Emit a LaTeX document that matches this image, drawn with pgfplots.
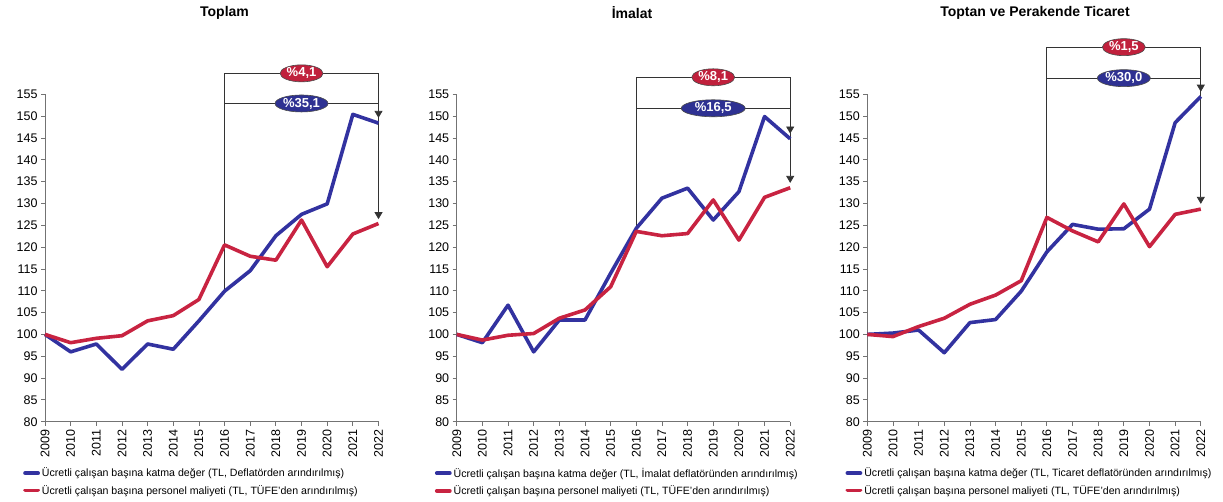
\documentclass[border=0pt]{standalone}
\usepackage{fontspec}
\setmainfont{Liberation Sans}
\usepackage{pgfplots}
\usepackage{pgfplotstable}
\pgfplotsset{compat=1.18}
\usetikzlibrary{arrows.meta,shapes.geometric}

\definecolor{lblue}{RGB}{50,50,160}
\definecolor{lred}{RGB}{200,35,65}
\definecolor{eblue}{RGB}{46,49,146}
\definecolor{ered}{RGB}{192,32,60}

\pgfplotstableread{
year blue red
2009 100.0 100.0
2010 96.0 98.1
2011 97.8 99.1
2012 92.0 99.7
2013 97.8 103.1
2014 96.6 104.3
2015 103.1 108.0
2016 109.9 120.5
2017 114.6 117.9
2018 122.6 117.0
2019 127.5 126.2
2020 129.9 115.5
2021 150.4 123.0
2022 148.4 125.4
}\toplam

\pgfplotstableread{
year blue red
2009 100.0 100.0
2010 98.1 98.7
2011 106.7 99.8
2012 96.0 100.2
2013 103.3 103.7
2014 103.3 105.6
2015 114.0 110.9
2016 124.3 123.6
2017 131.2 122.6
2018 133.5 123.1
2019 126.2 130.8
2020 132.7 121.6
2021 149.9 131.4
2022 144.8 133.6
}\imalat

\pgfplotstableread{
year blue red
2009 100.0 100.0
2010 100.3 99.5
2011 101.0 101.8
2012 95.8 103.7
2013 102.7 106.9
2014 103.4 109.0
2015 109.9 112.3
2016 118.9 126.8
2017 125.2 123.7
2018 124.1 121.2
2019 124.2 129.9
2020 128.7 120.1
2021 148.5 127.5
2022 154.5 128.7
}\ticaret

\pgfplotsset{
 panel/.style={
  scale only axis, width=333.5pt, height=327.4pt,
  xmin=2009, xmax=2022, ymin=80, ymax=155,
  xtick={2009,2010,...,2022}, ytick={80,85,...,155},
  axis lines*=left,
  axis line style={black!55, line width=0.8pt},
  tick style={black!55, line width=0.8pt},
  major tick length=4pt,
  tick align=outside,
  /pgf/number format/1000 sep={},
  /pgf/number format/assume math mode=true,
  x tick label style={rotate=90, anchor=east},
  tick label style={font=\fontsize{12.5}{12.5}\selectfont},
  clip=false,
  legend style={draw=none, fill=none, font=\fontsize{10.6}{12.5}\selectfont,
    at={(axis description cs:0,0)}, anchor=north west, xshift=-25pt, yshift=-42pt,
    row sep=3pt, cells={anchor=west}},
  legend image code/.code={\draw[line width=3.8pt, line cap=round] (0pt,0pt) -- (13pt,0pt);},
 },
 blueline/.style={color=lblue, line width=3.6pt, no markers, line join=round},
 redline/.style={color=lred, line width=3.6pt, no markers, line join=round},
}
\tikzset{
 bracket/.style={black!80, line width=0.8pt},
 tip/.style={-{Triangle[length=7pt,width=8pt]}},
 lab/.style={ellipse, draw=black!70, line width=0.6pt, text=white,
   font=\bfseries\fontsize{13}{13}\selectfont, minimum height=17pt, inner sep=0pt},
}

\begin{document}
\begin{tikzpicture}
\useasboundingbox (0,0) rectangle (1223pt,501pt);

\node[font=\bfseries\fontsize{14}{14}\selectfont] at (224.5pt,488.5pt) {Toplam};
\node[font=\bfseries\fontsize{14}{14}\selectfont] at (632pt,488.5pt) {İmalat};
\node[font=\bfseries\fontsize{14}{14}\selectfont] at (1035pt,488.5pt) {Toptan ve Perakende Ticaret};

% Panel 1
\begin{axis}[panel, at={(45pt,79.3pt)}, anchor=south west]
\draw[bracket] (axis cs:2016,109.9) -- (axis cs:2016,159.8) -- (axis cs:2022,159.8);
\draw[bracket,tip] (axis cs:2022,159.8) -- (axis cs:2022,126.4);
\draw[bracket] (axis cs:2016,152.9) -- (axis cs:2022,152.9);
\draw[bracket,tip] (axis cs:2022,152.9) -- (axis cs:2022,149.6);
\addplot[blueline] table[x=year,y=blue] {\toplam};
\addlegendentry{Ücretli çalışan başına katma değer (TL, Deflatörden arındırılmış)}
\addplot[redline] table[x=year,y=red] {\toplam};
\addlegendentry{Ücretli çalışan başına personel maliyeti (TL, TÜFE'den arındırılmış)}
\node[lab, fill=ered, minimum width=43pt] at (axis cs:2019,159.8) {\%4,1};
\node[lab, fill=eblue, minimum width=53pt] at (axis cs:2019,152.9) {\%35,1};
\end{axis}

% Panel 2
\begin{axis}[panel, at={(456.7pt,79.3pt)}, anchor=south west]
\draw[bracket] (axis cs:2016,124.3) -- (axis cs:2016,158.9) -- (axis cs:2022,158.9);
\draw[bracket,tip] (axis cs:2022,158.9) -- (axis cs:2022,134.7);
\draw[bracket] (axis cs:2016,151.8) -- (axis cs:2022,151.8);
\draw[bracket,tip] (axis cs:2022,151.8) -- (axis cs:2022,146.0);
\addplot[blueline] table[x=year,y=blue] {\imalat};
\addlegendentry{Ücretli çalışan başına katma değer (TL, İmalat deflatöründen arındırılmış)}
\addplot[redline] table[x=year,y=red] {\imalat};
\addlegendentry{Ücretli çalışan başına personel maliyeti (TL, TÜFE'den arındırılmış)}
\node[lab, fill=ered, minimum width=43pt] at (axis cs:2019,158.9) {\%8,1};
\node[lab, fill=eblue, minimum width=64pt] at (axis cs:2019,151.8) {\%16,5};
\end{axis}

% Panel 3
\begin{axis}[panel, at={(867.3pt,79.3pt)}, anchor=south west]
\draw[bracket] (axis cs:2016,118.9) -- (axis cs:2016,165.8) -- (axis cs:2022,165.8);
\draw[bracket,tip] (axis cs:2022,165.8) -- (axis cs:2022,129.9);
\draw[bracket] (axis cs:2016,158.7) -- (axis cs:2022,158.7);
\draw[bracket,tip] (axis cs:2022,158.7) -- (axis cs:2022,155.6);
\addplot[blueline] table[x=year,y=blue] {\ticaret};
\addlegendentry{Ücretli çalışan başına katma değer (TL, Ticaret deflatöründen arındırılmış)}
\addplot[redline] table[x=year,y=red] {\ticaret};
\addlegendentry{Ücretli çalışan başına personel maliyeti (TL, TÜFE'den arındırılmış)}
\node[lab, fill=ered, minimum width=43pt] at (axis cs:2019,165.8) {\%1,5};
\node[lab, fill=eblue, minimum width=53pt] at (axis cs:2019,158.7) {\%30,0};
\end{axis}
\end{tikzpicture}
\end{document}
